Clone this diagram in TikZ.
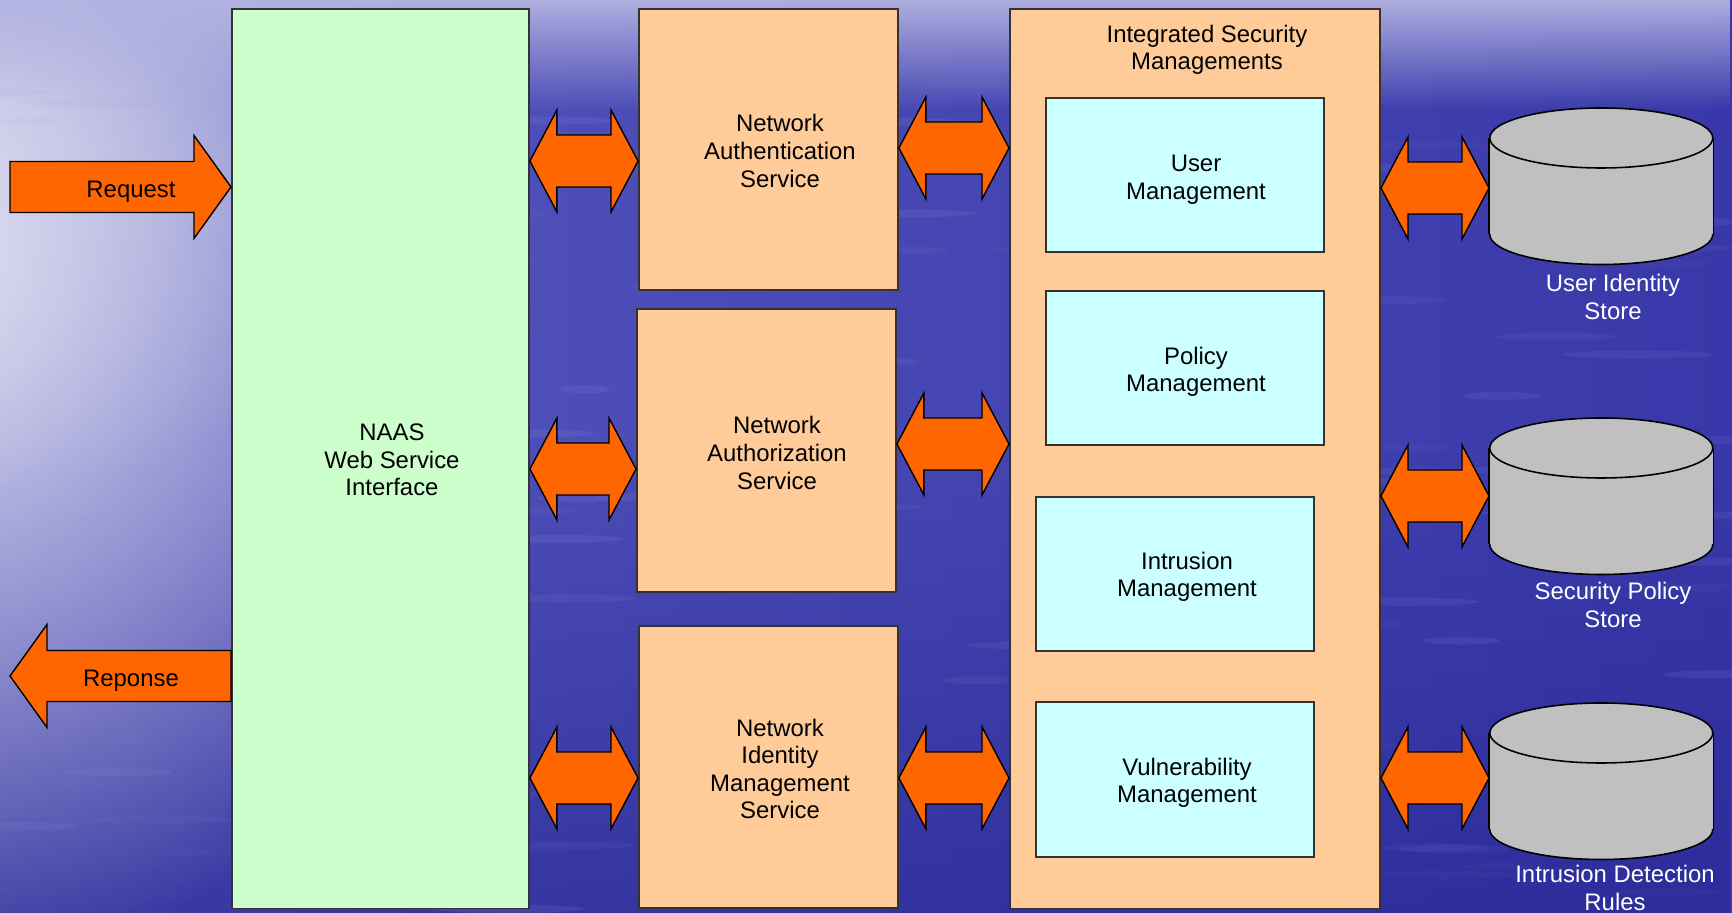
\documentclass[tikz,border=0pt]{standalone}
\usepackage{fontspec}
\setmainfont{Liberation Sans}
\usetikzlibrary{calc,fadings}

\definecolor{arroworange}{HTML}{FF6600}
\definecolor{naasgreen}{HTML}{CCFFCC}
\definecolor{svcorange}{HTML}{FFCC99}
\definecolor{mgmtcyan}{HTML}{CCFFFF}
\definecolor{cylgray}{HTML}{C0C0C0}
\definecolor{edgegray}{HTML}{333333}
\definecolor{sealeft}{HTML}{5858BE}
\definecolor{searight}{HTML}{3838AA}
\definecolor{seadeep}{HTML}{22228E}
\definecolor{seamist}{HTML}{E6E6F4}
\definecolor{skyband}{HTML}{B4B4E2}
\definecolor{ripple}{HTML}{9A9ADC}

\tikzfading[name=fadeoutdown, top color=transparent!0, bottom color=transparent!100]
\tikzfading[name=fadeoutup, top color=transparent!100, bottom color=transparent!0]
\tikzfading[name=glow, inner color=transparent!0, outer color=transparent!100]

% two-headed block arrow between two tips on one level
\newcommand\twowayarrow[2]{%
  \draw[blockarrow] (#1) -- ($(#1)+(27,-51)$) -- ($(#1)+(27,-26)$) -- ($(#2)+(-27,-26)$)
    -- ($(#2)+(-27,-51)$) -- (#2) -- ($(#2)+(-27,51)$) -- ($(#2)+(-27,26)$)
    -- ($(#1)+(27,26)$) -- ($(#1)+(27,51)$) -- cycle;}
% one-headed block arrow, tail #1, tip #2, head at the right
\newcommand\rightblockarrow[2]{%
  \draw[blockarrow] ($(#1)+(0,-25.5)$) -- ($(#2)+(-37,-25.5)$) -- ($(#2)+(-37,-51.5)$)
    -- (#2) -- ($(#2)+(-37,51.5)$) -- ($(#2)+(-37,25.5)$) -- ($(#1)+(0,25.5)$) -- cycle;}
% one-headed block arrow, tip #1 at the left, tail #2
\newcommand\leftblockarrow[2]{%
  \draw[blockarrow] (#1) -- ($(#1)+(37,-51.5)$) -- ($(#1)+(37,-25.5)$) -- ($(#2)+(0,-25.5)$)
    -- ($(#2)+(0,25.5)$) -- ($(#1)+(37,25.5)$) -- ($(#1)+(37,51.5)$) -- cycle;}
% database drum drawn inside the frame of node #1
\newcommand\drum[1]{%
  \draw[drumstyle] ($(#1.south)+(0,-30)$) ellipse [x radius=111.5, y radius=30];
  \fill[cylgray] ($(#1.north west)+(0,30)$) rectangle ($(#1.south east)+(0,-30)$);
  \draw[drumline] ($(#1.north west)+(0,30)$) -- ($(#1.south west)+(0,-30)$)
                  ($(#1.north east)+(0,30)$) -- ($(#1.south east)+(0,-30)$);
  \draw[drumstyle] ($(#1.north)+(0,30)$) ellipse [x radius=111.5, y radius=30];}

\begin{document}
\begin{tikzpicture}[x=0.01cm,y=-0.01cm,
  box/.style={draw=edgegray, line width=0.5pt, rectangle, inner sep=0pt, anchor=north west},
  greenbox/.style={box, fill=naasgreen},
  svcbox/.style={box, fill=svcorange},
  mgmtbox/.style={box, fill=mgmtcyan},
  lbl/.style={font=\fontsize{6.8}{7.85}\selectfont, align=center, inner sep=0pt},
  storelbl/.style={lbl, text=white},
  blockarrow/.style={fill=arroworange, draw=black, line width=0.4pt, line join=miter},
  drumstyle/.style={fill=cylgray, draw=black, line width=0.45pt},
  drumline/.style={draw=black, line width=0.45pt},
  drumframe/.style={inner sep=0pt, anchor=north west, minimum width=2.23cm, minimum height=1.55cm}]

% sea background
\path[use as bounding box] (0,0) rectangle (1732,913);
\begin{scope}
\clip (0,0) rectangle (1732,913);
\shade[left color=sealeft, right color=searight] (0,0) rectangle (1732,913);
\fill[seadeep, opacity=0.55, path fading=fadeoutup] (0,450) rectangle (1732,913);
\fill[seamist, opacity=0.95, path fading=glow] (-80,270) ellipse [x radius=620, y radius=700];
\fill[seamist, opacity=0.5, path fading=glow] (-60,120) ellipse [x radius=500, y radius=380];
\fill[skyband, opacity=0.95, path fading=fadeoutdown] (0,0) rectangle (1732,110);
% faint light ripples on the water
\pgfmathsetseed{4711}
\foreach \k in {1,...,110}{
  \pgfmathsetmacro\rx{rnd*1732}
  \pgfmathsetmacro\ry{60+rnd*850}
  \pgfmathsetmacro\rl{25+rnd*55}
  \pgfmathsetmacro\ro{0.04+0.09*rnd}
  \fill[ripple, opacity=\ro] (\rx,\ry) ellipse [x radius=\rl, y radius=4];
}
\end{scope}

% levels of the connectors
\coordinate (lvreq) at (0,187);
\coordinate (lvresp) at (0,676);
\coordinate (lvA) at (0,161);
\coordinate (lvB) at (0,469);
\coordinate (lvC) at (0,778);
\coordinate (lvD) at (0,148);
\coordinate (lvE) at (0,444);
\coordinate (lvF) at (0,188);
\coordinate (lvG) at (0,496);
\coordinate (reqtail) at (10,187);
\coordinate (resptip) at (10,676);

% boxes
\node[greenbox, minimum width=2.97cm, minimum height=8.99cm] (naas) at (231,8) {};
\node[svcbox, minimum width=2.59cm, minimum height=2.81cm] (authn) at (638,8) {};
\node[svcbox, minimum width=2.59cm, minimum height=2.83cm] (authz) at (636,308) {};
\node[svcbox, minimum width=2.59cm, minimum height=2.82cm] (ident) at (638,625) {};
\node[svcbox, minimum width=3.70cm, minimum height=8.99cm] (ism) at (1009,8) {};
\node[mgmtbox, minimum width=2.78cm, minimum height=1.54cm] (userm) at (1045,97) {};
\node[mgmtbox, minimum width=2.78cm, minimum height=1.54cm] (policym) at (1045,290) {};
\node[mgmtbox, minimum width=2.78cm, minimum height=1.54cm] (intrm) at (1035,496) {};
\node[mgmtbox, minimum width=2.78cm, minimum height=1.55cm] (vulnm) at (1035,701) {};

% stores
\node[drumframe] (uistore) at (1489,108) {};
\node[drumframe] (spstore) at (1489,418) {};
\node[drumframe] (idrules) at (1489,703) {};
\drum{uistore}
\drum{spstore}
\drum{idrules}

% texts
\node[lbl] (naastxt) at (392,460) {NAAS\\Web Service\\Interface};
\node[lbl] (authntxt) at (780,151) {Network\\Authentication\\Service};
\node[lbl] (authztxt) at (777,453) {Network\\Authorization\\Service};
\node[lbl] (identtxt) at (780,769) {Network\\Identity\\Management\\Service};
\node[lbl] (ismtxt) at (1207,50) {Integrated Security\\Managements};
\node[lbl] (usermtxt) at (1196,180) {User\\Management};
\node[lbl] (policymtxt) at (1196,372) {Policy\\Management};
\node[lbl] (intrmtxt) at (1187,577) {Intrusion\\Management};
\node[lbl] (vulnmtxt) at (1187,783) {Vulnerability\\Management};
\node[storelbl] (uilbl) at (1613,297) {User Identity\\Store};
\node[storelbl] (splbl) at (1613,605) {Security Policy\\Store};
\node[storelbl] (idlbl) at (1615,888) {Intrusion Detection\\Rules};

% request / response
\rightblockarrow{reqtail}{naas.west |- lvreq}
\leftblockarrow{resptip}{naas.west |- lvresp}
\node[lbl] (reqtxt) at (131,192) {Request};
\node[lbl] (resptxt) at (131,681) {Reponse};

% web service interface <-> network services
\twowayarrow{naas.east |- lvA}{authn.west |- lvA}
\twowayarrow{naas.east |- lvB}{authz.west |- lvB}
\twowayarrow{naas.east |- lvC}{ident.west |- lvC}

% network services <-> security managements
\twowayarrow{authn.east |- lvD}{ism.west |- lvD}
\twowayarrow{authz.east |- lvE}{ism.west |- lvE}
\twowayarrow{ident.east |- lvC}{ism.west |- lvC}

% security managements <-> stores
\twowayarrow{ism.east |- lvF}{uistore.west |- lvF}
\twowayarrow{ism.east |- lvG}{spstore.west |- lvG}
\twowayarrow{ism.east |- lvC}{idrules.west |- lvC}
\end{tikzpicture}
\end{document}
